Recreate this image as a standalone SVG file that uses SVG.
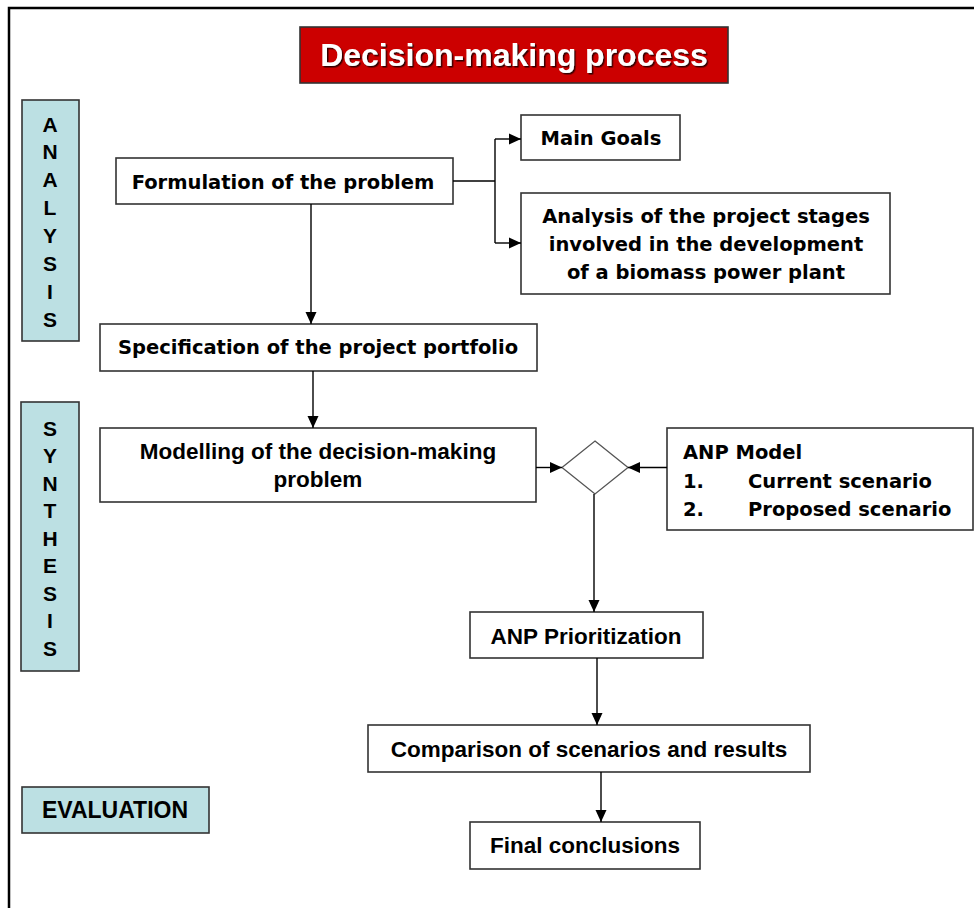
<svg xmlns="http://www.w3.org/2000/svg" width="974" height="908" viewBox="0 0 974 908">
<defs>
<style>
.box{fill:#fff;stroke:#333;stroke-width:1.6}
.phase{fill:#BCE0E3;stroke:#333;stroke-width:1.6}
.a{font-family:"Liberation Sans",Arial,sans-serif;font-weight:bold;fill:#000}
.v{font-family:"DejaVu Sans",Verdana,sans-serif;font-weight:bold;fill:#000;font-size:19.5px}
.con{fill:none;stroke:#000;stroke-width:1.4}
</style>
<marker id="ah" markerWidth="12" markerHeight="12" refX="12" refY="6" orient="auto" markerUnits="userSpaceOnUse">
<path d="M0,0.5 L12,6 L0,11.5 Z" fill="#000"/>
</marker>
<filter id="sh" x="-10%" y="-20%" width="120%" height="150%">
<feDropShadow dx="1.5" dy="1.5" stdDeviation="0.4" flood-color="#200000" flood-opacity="0.9"/>
</filter>
</defs>
<rect width="974" height="908" fill="#fff"/>
<path d="M9,920 V8 H990" fill="none" stroke="#000" stroke-width="2.5"/>

<g id="title">
<rect x="300" y="27" width="428" height="56" fill="#CC0000" stroke="#333" stroke-width="1.6"/>
<text x="514" y="66" text-anchor="middle" class="a" font-size="32" style="fill:#fff" filter="url(#sh)">Decision-making process</text>
</g>

<g id="analysis">
<rect class="phase" x="22" y="100" width="57" height="241"/>
<text class="a" font-size="21" text-anchor="middle"><tspan x="50" y="131.5">A</tspan><tspan x="50" dy="27.86">N</tspan><tspan x="50" dy="27.86">A</tspan><tspan x="50" dy="27.86">L</tspan><tspan x="50" dy="27.86">Y</tspan><tspan x="50" dy="27.86">S</tspan><tspan x="50" dy="27.86">I</tspan><tspan x="50" dy="27.86">S</tspan></text>
</g>

<g id="synthesis">
<rect class="phase" x="21" y="402" width="58" height="269"/>
<text class="a" font-size="21" text-anchor="middle"><tspan x="50" y="435.5">S</tspan><tspan x="50" dy="27.5">Y</tspan><tspan x="50" dy="27.5">N</tspan><tspan x="50" dy="27.5">T</tspan><tspan x="50" dy="27.5">H</tspan><tspan x="50" dy="27.5">E</tspan><tspan x="50" dy="27.5">S</tspan><tspan x="50" dy="27.5">I</tspan><tspan x="50" dy="27.5">S</tspan></text>
</g>

<g id="evaluation">
<rect class="phase" x="22" y="787" width="187" height="46"/>
<text x="115" y="818" class="a" font-size="23" text-anchor="middle">EVALUATION</text>
</g>

<g id="formulation">
<rect class="box" x="116" y="158" width="337" height="46"/>
<text x="283" y="189" class="v" text-anchor="middle">Formulation of the problem</text>
</g>

<g id="main-goals">
<rect class="box" x="521" y="115" width="159" height="45"/>
<text x="601" y="145" class="v" text-anchor="middle">Main Goals</text>
</g>

<g id="analysis-stages">
<rect class="box" x="521" y="193" width="369" height="101"/>
<text class="v" text-anchor="middle"><tspan x="706" y="223">Analysis of the project stages</tspan><tspan x="706" y="251">involved in the development</tspan><tspan x="706" y="279">of a biomass power plant</tspan></text>
</g>

<g id="specification">
<rect class="box" x="100" y="324" width="437" height="47"/>
<text x="318" y="354" class="v" text-anchor="middle">Specification of the project portfolio</text>
</g>

<g id="modelling">
<rect class="box" x="100" y="428" width="436" height="74"/>
<text class="a" font-size="22.5" text-anchor="middle"><tspan x="318" y="459">Modelling of the decision-making</tspan><tspan x="318" y="487">problem</tspan></text>
</g>

<g id="decision">
<path d="M595,441 L628,467.5 L595,494 L562,467.5 Z" fill="#fff" stroke="#555" stroke-width="1.3"/>
</g>

<g id="anp-model">
<rect class="box" x="667" y="428" width="306" height="102"/>
<text class="v"><tspan x="683" y="459">ANP Model</tspan><tspan x="683" y="488">1.</tspan><tspan x="748" y="488">Current scenario</tspan><tspan x="683" y="516">2.</tspan><tspan x="748" y="516">Proposed scenario</tspan></text>
</g>

<g id="anp-prioritization">
<rect class="box" x="470" y="612" width="233" height="46"/>
<text x="586" y="644" class="a" font-size="22.5" text-anchor="middle">ANP Prioritization</text>
</g>

<g id="comparison">
<rect class="box" x="368" y="725" width="442" height="47"/>
<text x="589" y="757" class="a" font-size="22.5" text-anchor="middle">Comparison of scenarios and results</text>
</g>

<g id="final">
<rect class="box" x="470" y="822" width="230" height="47"/>
<text x="585" y="853" class="a" font-size="22.5" text-anchor="middle">Final conclusions</text>
</g>

<g id="connectors">
<path class="con" d="M453,181 H495"/>
<path class="con" d="M495,139 V243"/>
<path class="con" d="M495,139 H521" marker-end="url(#ah)"/>
<path class="con" d="M495,243 H521" marker-end="url(#ah)"/>
<path class="con" d="M311,204 V324" marker-end="url(#ah)"/>
<path class="con" d="M313,371 V428" marker-end="url(#ah)"/>
<path class="con" d="M536,467.5 H562" marker-end="url(#ah)"/>
<path class="con" d="M667,467.5 H628" stroke="#666" stroke-width="2" marker-end="url(#ah)"/>
<path class="con" d="M594,494 V612" marker-end="url(#ah)"/>
<path class="con" d="M597,658 V725" marker-end="url(#ah)"/>
<path class="con" d="M601,772 V822" marker-end="url(#ah)"/>
</g>
</svg>
